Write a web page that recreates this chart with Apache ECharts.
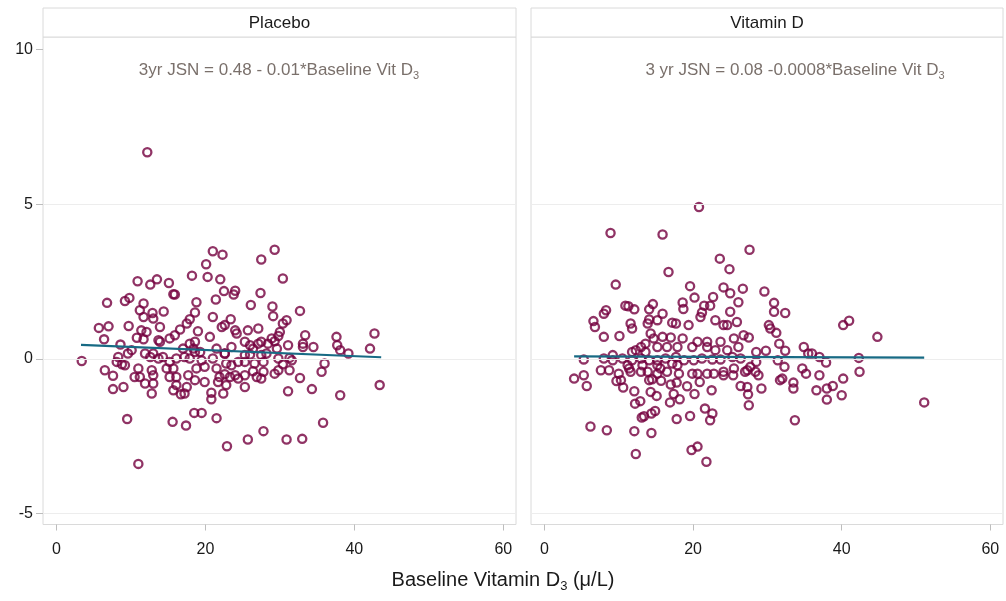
<!DOCTYPE html>
<html>
<head>
<meta charset="utf-8">
<script src="https://cdn.jsdelivr.net/npm/echarts@6/dist/echarts.min.js"></script>
<style>
html,body{margin:0;padding:0;background:#fff;}
#chart{width:1006px;height:601px;}
</style>
</head>
<body>
<div id="chart"></div>
<script>
// ---- data ----
const panelTitles = ['Placebo', 'Vitamin D'];
const equationTexts = ['3yr JSN = 0.48 - 0.01*Baseline Vit D', '3 yr JSN = 0.08 -0.0008*Baseline Vit D'];
const xTicks = [0, 20, 40, 60];
const yTicks = [-5, 0, 5, 10];
const yGridLines = [-5, 0, 5];

const placeboPoints = [
[12.2,6.68],[21.0,3.48],[22.3,3.37],[20.1,3.06],[18.2,2.69],[20.3,2.65],[22.0,2.57],[10.9,2.51],[12.6,2.40],[13.5,2.57],
[15.1,2.45],[15.7,2.09],[15.9,2.08],[22.5,2.19],[21.4,1.92],[6.8,1.81],[9.2,1.87],[9.8,1.97],[11.7,1.79],[11.2,1.57],
[12.9,1.48],[14.4,1.53],[18.8,1.83],[18.6,1.50],[21.0,1.35],[11.7,1.35],[13.0,1.30],[17.9,1.28],
[29.3,3.53],[27.5,3.21],[30.4,2.60],[27.4,2.13],[24.0,2.20],[23.8,2.08],[26.1,1.74],[29.0,1.69],[32.7,1.55],[23.4,1.28],
[5.7,1.00],[7.0,1.05],[6.4,0.63],[9.7,1.06],[13.9,1.03],[11.4,0.92],[12.1,0.87],[10.8,0.68],[11.7,0.63],[13.7,0.60],
[15.2,0.66],[15.9,0.76],[16.6,0.95],[17.5,1.14],[19.0,0.89],[20.6,0.71],[22.2,1.03],[22.6,1.09],[8.6,0.46],[10.1,0.28],
[9.6,0.17],[13.9,0.55],[17.9,0.49],[18.6,0.55],[3.4,-0.07],[8.3,0.06],[8.8,-0.18],[8.1,-0.10],[9.2,-0.21],[6.5,-0.37],
[7.6,-0.55],[9.0,-0.91],[7.6,-0.98],[11.9,0.17],[13.0,0.17],[13.7,0.01],[14.3,0.06],[15.2,-0.10],[15.7,-0.31],[14.8,-0.31],
[16.1,0.01],[17.2,0.06],[11.0,-0.31],[10.5,-0.59],[11.2,-0.59],[12.8,-0.37],[13.0,-0.53],[11.9,-0.80],[13.0,-0.80],[12.8,-1.12],
[15.2,-0.59],[16.1,-0.59],[16.1,-0.85],[15.7,-1.02],[17.5,-0.91],[17.7,-0.53],[18.8,-0.31],[18.6,-0.69],[19.9,-0.75],[19.5,-0.05],
[19.9,-0.26],[21.0,0.01],[21.5,-0.31],[21.9,-0.59],[21.7,-0.75],[22.8,-0.85],[22.4,-1.12],[18.4,0.33],[19.3,0.22],[17.0,0.33],
[21.5,0.33],[22.6,0.17],[22.8,-0.15],[12.6,0.06],[17.9,0.01],[18.6,0.22],
[29.1,1.38],[30.9,1.25],[30.4,1.14],[24.0,0.92],[24.2,0.82],[25.7,0.92],[27.1,0.98],[30.0,0.87],[29.8,0.74],[28.9,0.66],
[29.3,0.57],[28.4,0.49],[33.4,0.76],[33.1,0.49],[33.1,0.38],[34.5,0.38],[31.1,0.44],[37.6,0.71],[37.7,0.44],[38.1,0.28],
[39.2,0.17],[42.7,0.82],[42.1,0.33],[23.5,0.38],[25.3,0.55],[26.0,0.44],[27.1,0.49],[27.5,0.55],[26.4,0.33],[25.3,0.12],
[26.0,0.14],[27.5,0.12],[28.2,0.17],[29.8,0.01],[31.3,0.03],[31.6,-0.05],[29.6,0.33],[23.5,-0.21],[24.4,-0.10],[25.3,-0.10],
[26.6,-0.15],[27.8,-0.10],[30.4,-0.18],[31.3,-0.37],[36.0,-0.15],[35.6,-0.42],[29.8,-0.37],[29.3,-0.48],[27.8,-0.42],[26.4,-0.40],
[26.9,-0.59],[27.5,-0.64],[25.3,-0.53],[24.4,-0.64],[24.0,-0.53],[23.3,-0.59],[32.7,-0.62],[25.3,-0.91],[31.1,-1.05],[34.3,-0.98],
[43.4,-0.85],[38.1,-1.18],[16.7,-1.15],[17.2,-1.12],[20.8,-1.10],[20.8,-1.31],[22.6,0.17],[22.6,-0.50],
[9.5,-1.95],[15.6,-2.04],[17.4,-2.16],[18.5,-1.75],[19.5,-1.75],[21.5,-1.92],[27.8,-2.34],[25.7,-2.61],[22.9,-2.83],[30.9,-2.61],
[33.0,-2.59],[35.8,-2.07],[11.0,-3.40]
];

const vitaminDPoints = [
[20.8,4.91],[8.9,4.07],[15.9,4.02],[27.6,3.53],[23.6,3.24],[24.9,2.90],[16.7,2.81],[9.6,2.40],[19.6,2.35],[24.1,2.31],
[25.0,2.12],[26.7,2.27],[22.7,2.00],[20.2,1.98],[26.1,1.83],[18.6,1.82],[18.7,1.61],[21.5,1.72],[22.3,1.72],[14.6,1.77],
[14.1,1.60],[10.9,1.72],[11.3,1.70],[12.1,1.60],[8.3,1.57],[8.0,1.46],[15.9,1.46],[21.2,1.50],[25.0,1.52],
[29.6,2.18],[30.9,1.81],[30.9,1.52],[32.4,1.48],
[6.6,1.22],[6.8,1.03],[8.0,0.71],[10.1,0.74],[11.6,1.14],[11.8,0.98],[13.9,1.14],[14.1,1.27],[15.2,1.25],[17.2,1.17],
[17.7,1.14],[19.4,1.09],[21.0,1.35],[23.0,1.25],[24.1,1.09],[24.6,1.09],[25.9,1.19],[26.8,0.76],[14.3,0.82],[14.7,0.66],
[15.9,0.71],[17.0,0.69],[18.6,0.66],[20.6,0.55],[21.9,0.55],[23.7,0.55],[25.5,0.66],[13.6,0.49],[13.0,0.38],[12.3,0.28],
[11.8,0.22],[13.6,0.22],[15.2,0.38],[16.5,0.38],[17.9,0.38],[19.9,0.38],[21.9,0.38],[23.0,0.28],[24.6,0.28],[26.1,0.38],
[5.3,-0.02],[8.0,0.01],[9.2,0.12],[9.2,-0.05],[10.5,0.01],[11.8,-0.05],[13.0,0.01],[14.1,-0.05],[15.2,-0.05],[16.3,0.01],
[17.7,0.06],[18.8,-0.05],[20.1,-0.05],[21.2,0.01],[22.6,-0.02],[23.7,-0.02],[25.3,0.06],[26.4,0.01],[11.2,-0.21],[11.4,-0.31],
[13.2,-0.21],[15.2,-0.21],[15.6,-0.31],[17.2,-0.15],[17.9,-0.21],[7.6,-0.37],[8.7,-0.37],[10.0,-0.48],[11.6,-0.42],[13.0,-0.42],
[13.9,-0.42],[15.2,-0.48],[16.5,-0.42],[18.1,-0.48],[19.9,-0.48],[20.6,-0.48],[21.9,-0.48],[22.8,-0.48],[24.1,-0.42],[25.5,-0.31],
[27.0,-0.42],[5.3,-0.53],[4.0,-0.64],
[30.2,1.09],[30.4,0.98],[31.2,0.84],[27.5,0.69],[40.2,1.09],[41.0,1.23],[44.8,0.71],[31.6,0.49],[32.4,0.26],[29.8,0.26],
[28.5,0.22],[34.9,0.38],[35.5,0.17],[36.0,0.17],[37.0,0.06],[37.9,-0.12],[42.3,0.03],[28.5,-0.10],[31.4,-0.05],[32.3,-0.26],
[34.7,-0.31],[35.2,-0.48],[37.0,-0.53],[42.4,-0.42],[40.2,-0.64],[28.4,-0.42],[28.8,-0.53],[27.7,-0.26],[27.3,-0.37],[32.0,-0.64],
[5.7,-0.88],[9.7,-0.72],[10.3,-0.69],[10.6,-0.93],[12.1,-1.05],[14.1,-0.69],[14.5,-0.66],[15.7,-0.71],[14.3,-1.07],[15.1,-1.20],
[12.2,-1.45],[12.9,-1.37],[17.0,-0.83],[17.8,-0.77],[17.4,-1.14],[18.2,-1.31],[16.9,-1.41],[19.2,-0.89],[20.2,-1.14],[20.9,-0.75],
[22.5,-1.02],[21.6,-1.61],[22.6,-1.77],[22.3,-1.99],[19.6,-1.85],[17.8,-1.95],[14.9,-1.69],[14.4,-1.77],[13.4,-1.86],[13.1,-1.90],
[6.2,-2.19],[8.4,-2.31],[12.1,-2.34],[14.4,-2.40],[12.3,-3.08],[19.8,-2.95],[20.6,-2.84],[21.8,-3.33],[26.4,-0.88],[27.3,-0.91],
[27.4,-1.15],[27.5,-1.50],[29.2,-0.96],[31.7,-0.69],[33.5,-0.77],[33.5,-0.96],[33.7,-1.99],[36.6,-1.02],[38.0,-0.96],[38.8,-0.88],
[38.0,-1.32],[40.0,-1.18],[51.1,-1.41],[25.4,-0.53],[24.1,-0.53]
];

const placeboFit = [[3.3, 0.45], [43.6, 0.05]];
const vitaminDFit = [[4.0, 0.08], [51.1, 0.04]];

// ---- chart ----
const FONT = "'Liberation Sans', Arial, Helvetica, sans-serif";
const POINT_COLOR = '#74003f';
const FIT_COLOR = '#176a84';
const BORDER = '#dadada';
const GRIDLINE = '#ededed';

const chart = echarts.init(document.getElementById('chart'), null, {renderer: 'canvas'});

const grids = [
  {left: 43, top: 37, width: 473, height: 487.5},
  {left: 531, top: 37, width: 472, height: 487.5}
];

function xAxisFor(i) {
  return {
    gridIndex: i, type: 'value', min: -1.8, max: 61.7, position: 'bottom',
    splitLine: {show: false},
    axisLine: {show: false, onZero: false},
    axisTick: {show: true, length: 6, inside: false, customValues: xTicks, lineStyle: {color: '#bdbdbd', width: 1}},
    axisLabel: {customValues: xTicks, fontSize: 16, color: '#1a1a1a', margin: 17, fontFamily: FONT}
  };
}
function yAxisFor(i) {
  return {
    gridIndex: i, type: 'value', min: -5.36, max: 10.41, position: 'left',
    splitLine: {show: false},
    axisLine: {show: false, onZero: false},
    axisTick: {show: i === 0, length: 7, customValues: yTicks, lineStyle: {color: '#bdbdbd', width: 1}},
    axisLabel: {show: i === 0, customValues: yTicks, fontSize: 16, color: '#1a1a1a', margin: 10, fontFamily: FONT}
  };
}

const pointSets = [placeboPoints, vitaminDPoints];
const fitSets = [placeboFit, vitaminDFit];
const series = [];
[0, 1].forEach(i => {
  series.push({
    type: 'line', xAxisIndex: i, yAxisIndex: i, data: [], z: 0, silent: true,
    markLine: {
      silent: true, symbol: ['none', 'none'], label: {show: false},
      lineStyle: {color: GRIDLINE, width: 1, type: 'solid'},
      emphasis: {disabled: true},
      data: yGridLines.map(v => ({yAxis: v}))
    }
  });
  series.push({
    type: 'scatter', xAxisIndex: i, yAxisIndex: i, data: pointSets[i], z: 2,
    symbol: 'circle', symbolSize: 8.2, silent: true,
    itemStyle: {color: 'rgba(0,0,0,0)', borderColor: POINT_COLOR, borderWidth: 2.3}
  });
  series.push({
    type: 'line', xAxisIndex: i, yAxisIndex: i, data: fitSets[i], z: 3,
    symbol: 'none', silent: true,
    lineStyle: {color: FIT_COLOR, width: 2.2}
  });
});

const graphics = [];
grids.forEach((g, i) => {
  graphics.push({
    type: 'rect', z: 10, silent: true,
    shape: {x: g.left, y: 8, width: g.width, height: 29},
    style: {fill: '#ffffff', stroke: BORDER, lineWidth: 1}
  });
  graphics.push({
    type: 'text', z: 11, silent: true,
    x: g.left + g.width / 2, y: 23,
    style: {text: panelTitles[i], fontSize: 17, fontFamily: FONT, fill: '#1a1a1a', align: 'center', verticalAlign: 'middle'}
  });
  graphics.push({
    type: 'text', z: 11, silent: true,
    x: [279, 795][i], y: 70,
    style: {
      text: '{a|' + equationTexts[i] + '}{s|3}',
      align: 'center', verticalAlign: 'middle',
      rich: {
        a: {fontSize: 17, fontFamily: FONT, fill: '#7a706b', color: '#7a706b', lineHeight: 22, verticalAlign: 'middle'},
        s: {fontSize: 11, fontFamily: FONT, fill: '#7a706b', color: '#7a706b', lineHeight: 11, verticalAlign: 'bottom'}
      }
    }
  });
});
graphics.push({
  type: 'text', z: 11, silent: true,
  x: 503, y: 580,
  style: {
    text: '{a|Baseline Vitamin D}{s|3}{a| (\u03bc/L)}',
    align: 'center', verticalAlign: 'middle',
    rich: {
      a: {fontSize: 20, fontFamily: FONT, fill: '#1a1a1a', color: '#1a1a1a', lineHeight: 26, verticalAlign: 'middle'},
      s: {fontSize: 13, fontFamily: FONT, fill: '#1a1a1a', color: '#1a1a1a', lineHeight: 14, verticalAlign: 'bottom'}
    }
  }
});

chart.setOption({
  animation: false,
  backgroundColor: '#ffffff',
  grid: grids.map(g => Object.assign({show: true, borderColor: BORDER, borderWidth: 1, backgroundColor: 'transparent', containLabel: false}, g)),
  xAxis: [xAxisFor(0), xAxisFor(1)],
  yAxis: [yAxisFor(0), yAxisFor(1)],
  series: series,
  graphic: graphics
});
</script>
</body>
</html>
